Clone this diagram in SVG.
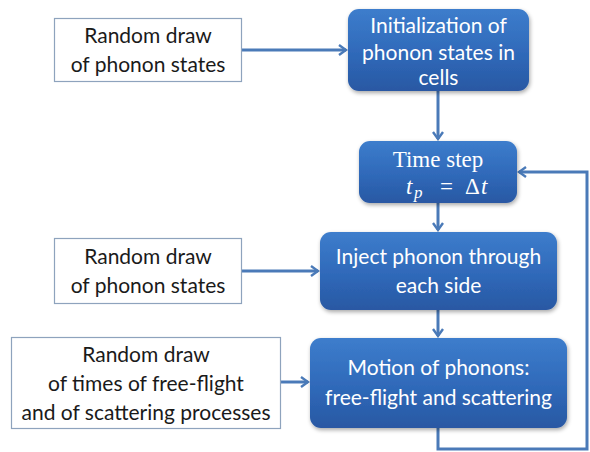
<svg xmlns="http://www.w3.org/2000/svg" width="590" height="452" viewBox="0 0 590 452">
<defs>
<linearGradient id="blue" x1="0" y1="0" x2="0" y2="1">
<stop offset="0" stop-color="#3d7dcc"/>
<stop offset="0.55" stop-color="#2f69b9"/>
<stop offset="1" stop-color="#2958a3"/>
</linearGradient>
<filter id="sh" x="-10%" y="-10%" width="125%" height="130%">
<feGaussianBlur in="SourceAlpha" stdDeviation="2"/>
<feOffset dx="1" dy="2" result="b"/>
<feComponentTransfer><feFuncA type="linear" slope="0.35"/></feComponentTransfer>
<feMerge><feMergeNode/><feMergeNode in="SourceGraphic"/></feMerge>
</filter>
<marker id="ah" viewBox="0 0 12 12" refX="10" refY="6" markerWidth="12" markerHeight="12" markerUnits="userSpaceOnUse" orient="auto">
<polyline points="3,1 10,6 3,11" fill="none" stroke="#4a7ab8" stroke-width="2.4"/>
</marker>
</defs>
<style>
.wbox{fill:#ffffff;stroke:#8ea3bd;stroke-width:1.2}
.bbox{fill:url(#blue);filter:url(#sh)}
.wt{font-family:Lato,"Liberation Sans",sans-serif;font-size:21px;fill:#1a1a1a;text-anchor:middle}
.bt{font-family:Lato,"Liberation Sans",sans-serif;font-size:21px;fill:#ffffff;text-anchor:middle}
.st{font-family:"Liberation Serif","DejaVu Serif",serif;font-size:23px;fill:#ffffff;text-anchor:middle}
.mt{font-family:"Liberation Serif","DejaVu Serif",serif;font-size:23px;fill:#ffffff}
.cn{fill:none;stroke:#4a7ab8;stroke-width:3}
</style>
<rect width="590" height="452" fill="#ffffff"/>
<g id="connectors">
<line class="cn" x1="242" y1="50" x2="346" y2="50" marker-end="url(#ah)"/>
<line class="cn" x1="438" y1="91" x2="438" y2="139" marker-end="url(#ah)"/>
<line class="cn" x1="438" y1="203" x2="438" y2="230" marker-end="url(#ah)"/>
<line class="cn" x1="242" y1="271" x2="318" y2="271" marker-end="url(#ah)"/>
<line class="cn" x1="438" y1="310" x2="438" y2="336" marker-end="url(#ah)"/>
<line class="cn" x1="281" y1="382" x2="308" y2="382" marker-end="url(#ah)"/>
<polyline class="cn" points="438,428 438,449 587,449 587,172 519,172" marker-end="url(#ah)"/>
</g>
<g id="n_rand1">
<rect class="wbox" x="54.5" y="18.5" width="187" height="63"/>
<text class="wt" x="148" y="43">Random draw</text>
<text class="wt" x="148" y="72">of phonon states</text>
</g>
<g id="n_init">
<rect class="bbox" x="348" y="9" width="181" height="82" rx="11"/>
<text class="bt" x="438.5" y="33">Initialization of</text>
<text class="bt" x="438.5" y="60">phonon states in</text>
<text class="bt" x="438.5" y="85">cells</text>
</g>
<g id="n_time">
<rect class="bbox" x="359" y="141" width="158" height="62" rx="11"/>
<text class="st" x="438" y="167">Time step</text>
<text class="mt" y="194"><tspan x="406" font-style="italic">t</tspan><tspan x="414" dy="4" font-style="italic" font-size="17">p</tspan><tspan x="440" dy="-4">=</tspan><tspan x="465">Δ</tspan><tspan x="481" font-style="italic">t</tspan></text>
</g>
<g id="n_rand2">
<rect class="wbox" x="54.5" y="238.5" width="187" height="65"/>
<text class="wt" x="148" y="264">Random draw</text>
<text class="wt" x="148" y="293">of phonon states</text>
</g>
<g id="n_inject">
<rect class="bbox" x="320" y="232" width="237" height="78" rx="11"/>
<text class="bt" x="438.5" y="264">Inject phonon through</text>
<text class="bt" x="438.5" y="293">each side</text>
</g>
<g id="n_rand3">
<rect class="wbox" x="11.5" y="337.5" width="269" height="91"/>
<text class="wt" x="146" y="362">Random draw</text>
<text class="wt" x="146" y="391">of times of free-flight</text>
<text class="wt" x="146" y="420">and of scattering processes</text>
</g>
<g id="n_motion">
<rect class="bbox" x="310" y="338" width="257" height="90" rx="11"/>
<text class="bt" x="438.5" y="375">Motion of phonons:</text>
<text class="bt" x="438.5" y="405">free-flight and scattering</text>
</g>
</svg>
